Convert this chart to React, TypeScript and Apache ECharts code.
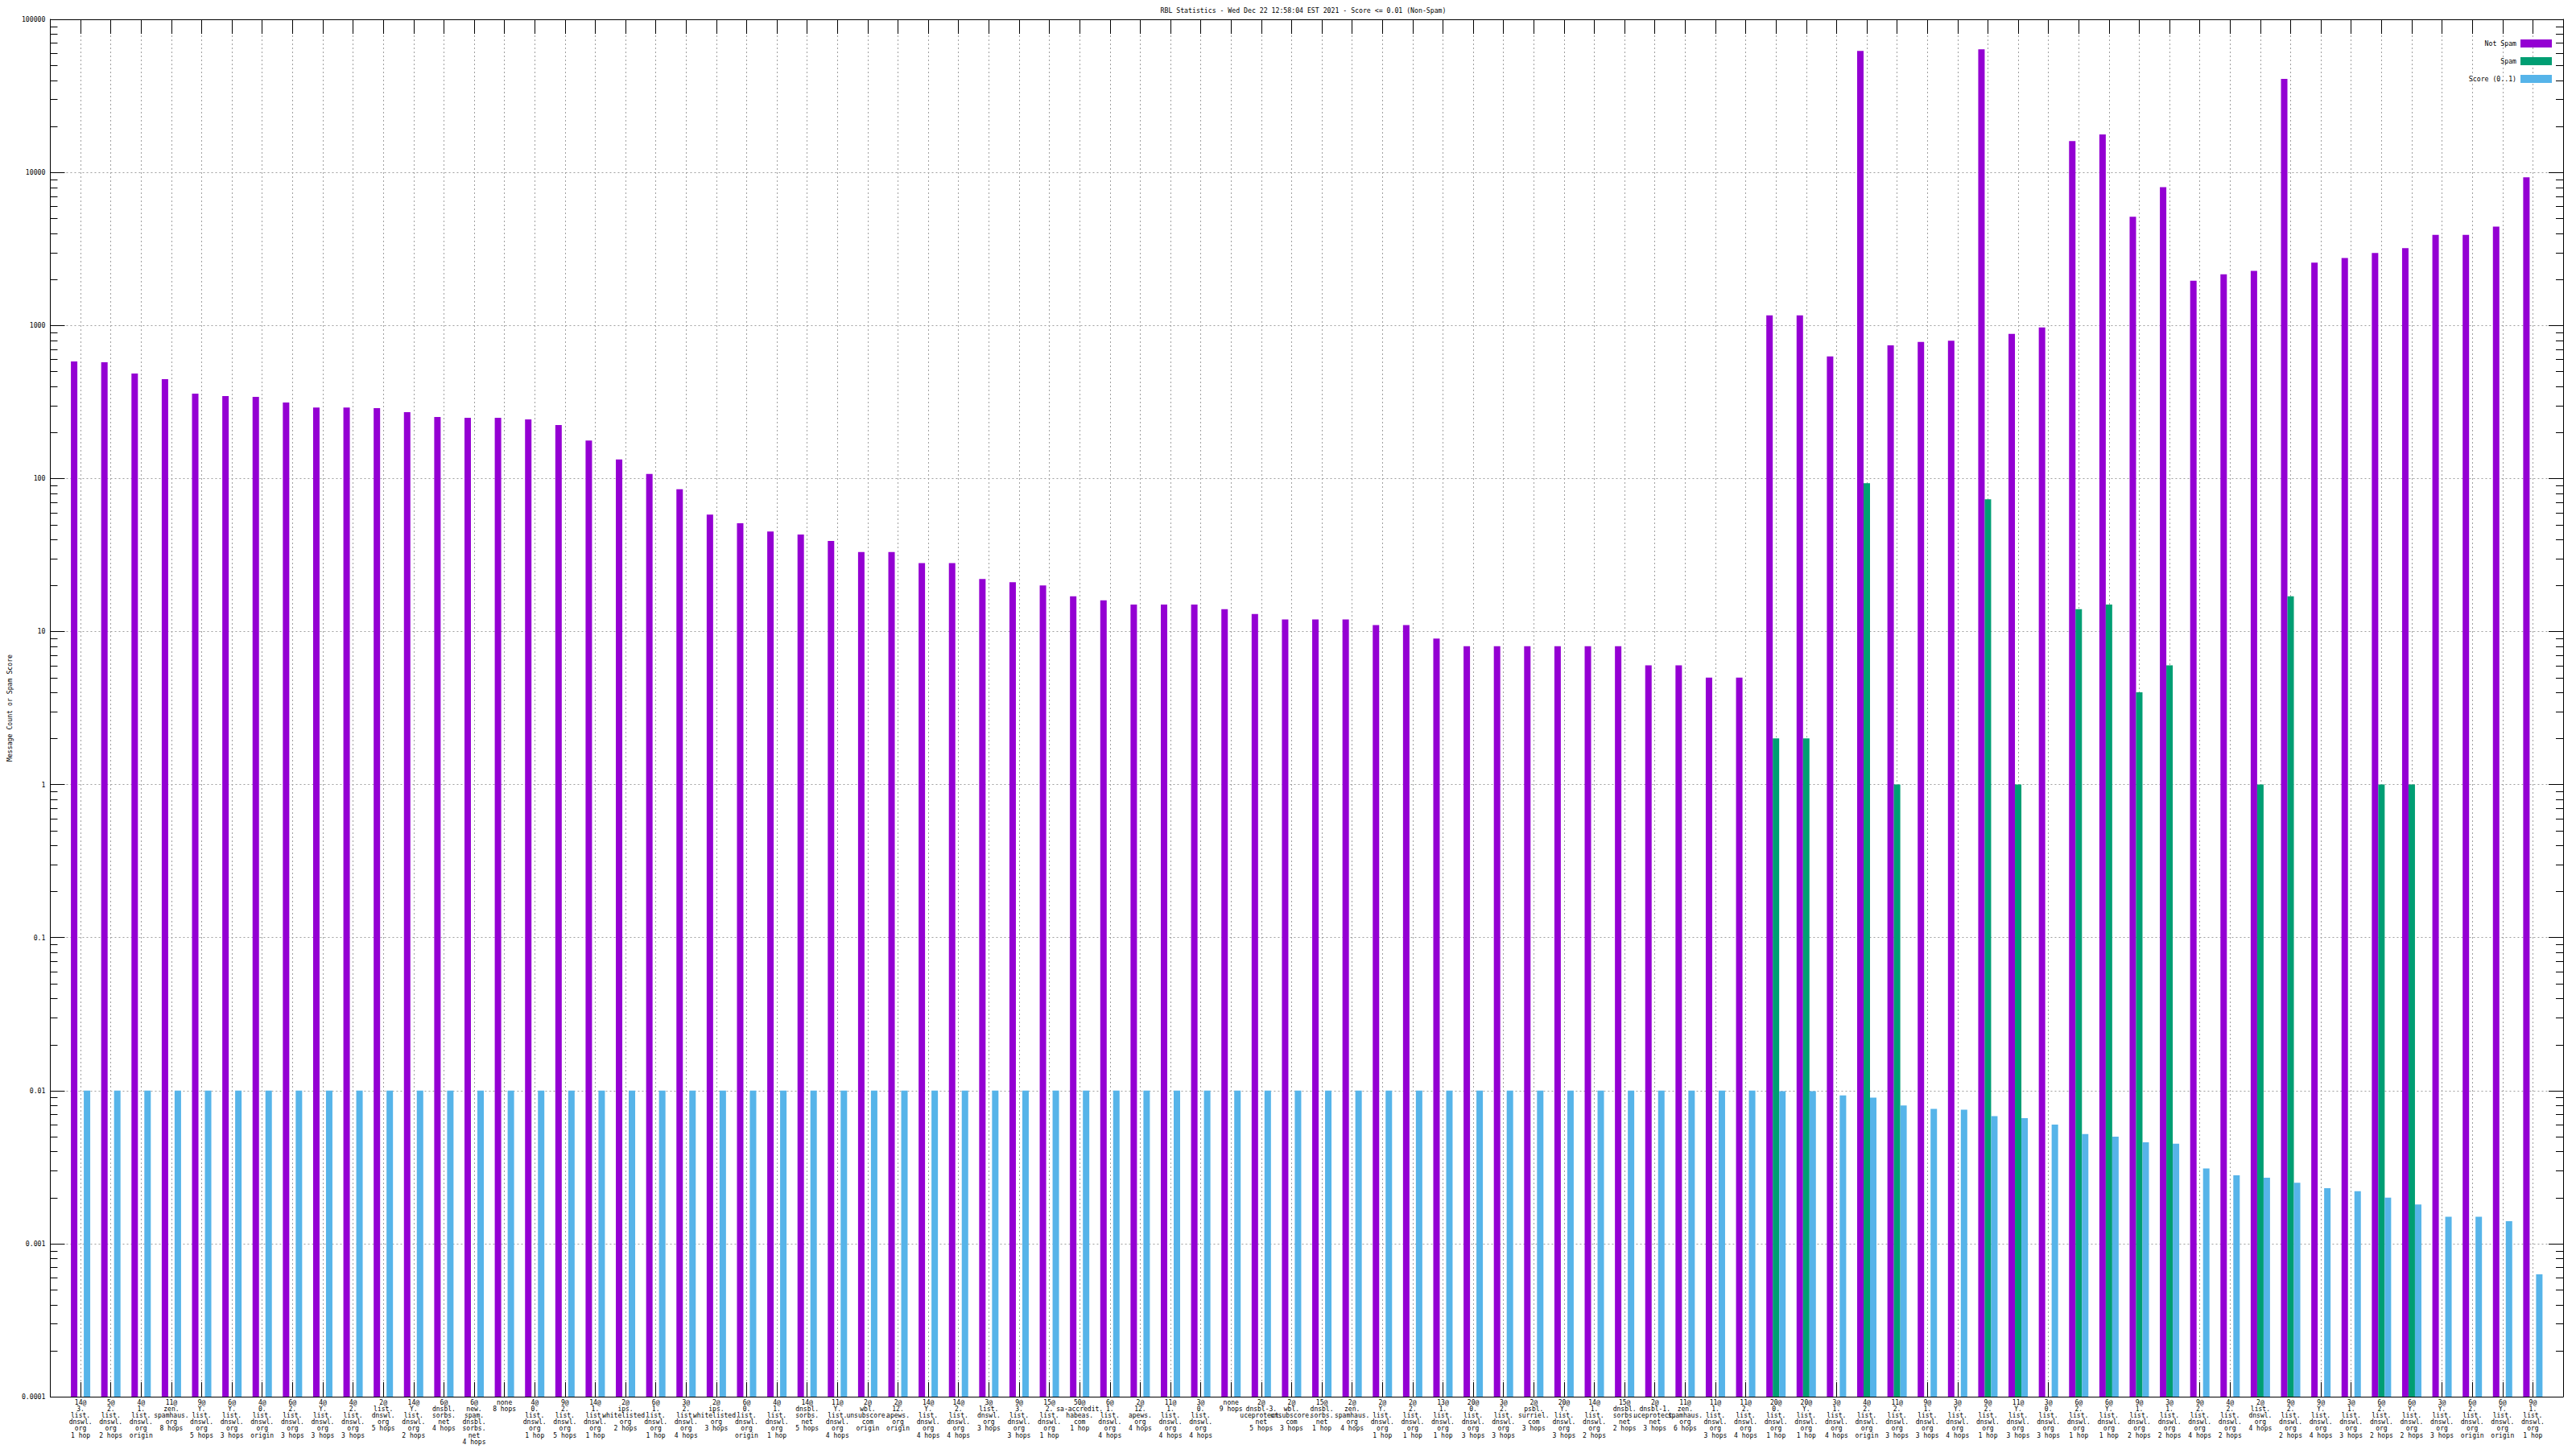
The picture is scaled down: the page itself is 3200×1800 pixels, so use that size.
import React, { useEffect, useRef } from 'react';
import * as echarts from 'echarts';

const chartTitle = 'RBL Statistics - Wed Dec 22 12:58:04 EST 2021 - Score <= 0.01 (Non-Spam)';
const yAxisTitle = 'Message Count or Spam Score';
const seriesNames = ['Not Spam', 'Spam', 'Score (0..1)'];
const seriesColors = ['#9400d3', '#009e73', '#56b4e9'];

const categories = [
  '14@\n3.\nlist.\ndnswl.\norg\n1 hop',
  '5@\n2.\nlist.\ndnswl.\norg\n2 hops',
  '4@\n1.\nlist.\ndnswl.\norg\norigin',
  '11@\nzen.\nspamhaus.\norg\n8 hops',
  '9@\nY.\nlist.\ndnswl.\norg\n5 hops',
  '6@\nY.\nlist.\ndnswl.\norg\n3 hops',
  '4@\n0.\nlist.\ndnswl.\norg\norigin',
  '6@\n2.\nlist.\ndnswl.\norg\n3 hops',
  '4@\nY.\nlist.\ndnswl.\norg\n3 hops',
  '4@\n2.\nlist.\ndnswl.\norg\n3 hops',
  '2@\nlist.\ndnswl.\norg\n5 hops',
  '14@\nY.\nlist.\ndnswl.\norg\n2 hops',
  '6@\ndnsbl.\nsorbs.\nnet\n4 hops',
  '6@\nnew.\nspam.\ndnsbl.\nsorbs.\nnet\n4 hops',
  'none\n8 hops',
  '4@\n0.\nlist.\ndnswl.\norg\n1 hop',
  '9@\n2.\nlist.\ndnswl.\norg\n5 hops',
  '14@\n1.\nlist.\ndnswl.\norg\n1 hop',
  '2@\nips.\nwhitelisted.\norg\n2 hops',
  '6@\n1.\nlist.\ndnswl.\norg\n1 hop',
  '3@\n2.\nlist.\ndnswl.\norg\n4 hops',
  '2@\nips.\nwhitelisted.\norg\n3 hops',
  '6@\n0.\nlist.\ndnswl.\norg\norigin',
  '4@\n1.\nlist.\ndnswl.\norg\n1 hop',
  '14@\ndnsbl.\nsorbs.\nnet\n5 hops',
  '11@\nY.\nlist.\ndnswl.\norg\n4 hops',
  '2@\nwbl.\nunsubscore.\ncom\norigin',
  '2@\n12.\napews.\norg\norigin',
  '14@\nY.\nlist.\ndnswl.\norg\n4 hops',
  '14@\n2.\nlist.\ndnswl.\norg\n4 hops',
  '3@\nlist.\ndnswl.\norg\n3 hops',
  '9@\n3.\nlist.\ndnswl.\norg\n3 hops',
  '15@\n2.\nlist.\ndnswl.\norg\n1 hop',
  '50@\nsa-accredit.\nhabeas.\ncom\n1 hop',
  '6@\n1.\nlist.\ndnswl.\norg\n4 hops',
  '2@\n12.\napews.\norg\n4 hops',
  '11@\n1.\nlist.\ndnswl.\norg\n4 hops',
  '3@\n0.\nlist.\ndnswl.\norg\n4 hops',
  'none\n9 hops',
  '2@\ndnsbl-3.\nuceprotect.\nnet\n5 hops',
  '2@\nwbl.\nunsubscore.\ncom\n3 hops',
  '15@\ndnsbl.\nsorbs.\nnet\n1 hop',
  '2@\nzen.\nspamhaus.\norg\n4 hops',
  '2@\nY.\nlist.\ndnswl.\norg\n1 hop',
  '2@\n2.\nlist.\ndnswl.\norg\n1 hop',
  '13@\n1.\nlist.\ndnswl.\norg\n1 hop',
  '20@\n0.\nlist.\ndnswl.\norg\n3 hops',
  '3@\n2.\nlist.\ndnswl.\norg\n3 hops',
  '2@\npsbl.\nsurriel.\ncom\n3 hops',
  '20@\nY.\nlist.\ndnswl.\norg\n3 hops',
  '14@\n1.\nlist.\ndnswl.\norg\n2 hops',
  '15@\ndnsbl.\nsorbs.\nnet\n2 hops',
  '2@\ndnsbl-1.\nuceprotect.\nnet\n3 hops',
  '11@\nzen.\nspamhaus.\norg\n6 hops',
  '11@\n1.\nlist.\ndnswl.\norg\n3 hops',
  '11@\n2.\nlist.\ndnswl.\norg\n4 hops',
  '20@\n0.\nlist.\ndnswl.\norg\n1 hop',
  '20@\nY.\nlist.\ndnswl.\norg\n1 hop',
  '3@\n1.\nlist.\ndnswl.\norg\n4 hops',
  '4@\n2.\nlist.\ndnswl.\norg\norigin',
  '11@\n2.\nlist.\ndnswl.\norg\n3 hops',
  '9@\n1.\nlist.\ndnswl.\norg\n3 hops',
  '3@\nY.\nlist.\ndnswl.\norg\n4 hops',
  '9@\n2.\nlist.\ndnswl.\norg\n1 hop',
  '11@\nY.\nlist.\ndnswl.\norg\n3 hops',
  '3@\n0.\nlist.\ndnswl.\norg\n3 hops',
  '6@\n2.\nlist.\ndnswl.\norg\n1 hop',
  '6@\nY.\nlist.\ndnswl.\norg\n1 hop',
  '9@\n1.\nlist.\ndnswl.\norg\n2 hops',
  '3@\n1.\nlist.\ndnswl.\norg\n2 hops',
  '9@\n2.\nlist.\ndnswl.\norg\n4 hops',
  '4@\n2.\nlist.\ndnswl.\norg\n2 hops',
  '2@\nlist.\ndnswl.\norg\n4 hops',
  '9@\n2.\nlist.\ndnswl.\norg\n2 hops',
  '9@\nY.\nlist.\ndnswl.\norg\n4 hops',
  '3@\n1.\nlist.\ndnswl.\norg\n3 hops',
  '6@\n2.\nlist.\ndnswl.\norg\n2 hops',
  '6@\nY.\nlist.\ndnswl.\norg\n2 hops',
  '3@\nY.\nlist.\ndnswl.\norg\n3 hops',
  '6@\n2.\nlist.\ndnswl.\norg\norigin',
  '6@\nY.\nlist.\ndnswl.\norg\norigin',
  '9@\n1.\nlist.\ndnswl.\norg\n1 hop',
];

const notSpam = [
  581, 574, 485, 445, 358, 345, 341, 313, 291, 291,
  288, 271, 252, 249, 249, 243, 223, 177, 133, 107,
  85, 58, 51, 45, 43, 39, 33, 33, 28, 28,
  22, 21, 20, 17, 16, 15, 15, 15, 14, 13,
  12, 12, 12, 11, 11, 9, 8, 8, 8, 8,
  8, 8, 6, 6, 5, 5, 1164, 1164, 627, 62200,
  741, 779, 795, 63700, 879, 970, 16000, 17700, 5130, 8000,
  1955, 2160, 2270, 40800, 2570, 2760, 2970, 3200, 3900, 3900,
  4420, 9270,
];

const spam: (number | null)[] = [
  null, null, null, null, null, null, null, null, null, null,
  null, null, null, null, null, null, null, null, null, null,
  null, null, null, null, null, null, null, null, null, null,
  null, null, null, null, null, null, null, null, null, null,
  null, null, null, null, null, null, null, null, null, null,
  null, null, null, null, null, null, 2, 2, null, 93,
  1, null, null, 73, 1, null, 14, 15, 4, 6,
  null, null, 1, 17, null, null, 1, 1, null, null,
  null, null,
];

const score = [
  0.01, 0.01, 0.01, 0.01, 0.01, 0.01, 0.01, 0.01, 0.01, 0.01,
  0.01, 0.01, 0.01, 0.01, 0.01, 0.01, 0.01, 0.01, 0.01, 0.01,
  0.01, 0.01, 0.01, 0.01, 0.01, 0.01, 0.01, 0.01, 0.01, 0.01,
  0.01, 0.01, 0.01, 0.01, 0.01, 0.01, 0.01, 0.01, 0.01, 0.01,
  0.01, 0.01, 0.01, 0.01, 0.01, 0.01, 0.01, 0.01, 0.01, 0.01,
  0.01, 0.01, 0.01, 0.01, 0.01, 0.01, 0.0099, 0.0099, 0.0093, 0.009,
  0.008, 0.0076, 0.0075, 0.0068, 0.0066, 0.006, 0.0052, 0.005, 0.0046, 0.0045,
  0.0031, 0.0028, 0.0027, 0.0025, 0.0023, 0.0022, 0.002, 0.0018, 0.0015, 0.0015,
  0.0014, 0.00063,
];

const yTickLabels = ['0.0001', '0.001', '0.01', '0.1', '1', '10', '100', '1000', '10000', '100000'];

// minor tick positions of the log axis (2..9 times each power of ten)
const yMinorTicks = [
  0.0002, 0.0003, 0.0004, 0.0005, 0.0006, 0.0007, 0.0008, 0.0009,
  0.002, 0.003, 0.004, 0.005, 0.006, 0.007, 0.008, 0.009,
  0.02, 0.03, 0.04, 0.05, 0.06, 0.07, 0.08, 0.09,
  0.2, 0.3, 0.4, 0.5, 0.6, 0.7, 0.8, 0.9,
  2, 3, 4, 5, 6, 7, 8, 9,
  20, 30, 40, 50, 60, 70, 80, 90,
  200, 300, 400, 500, 600, 700, 800, 900,
  2000, 3000, 4000, 5000, 6000, 7000, 8000, 9000,
  20000, 30000, 40000, 50000, 60000, 70000, 80000, 90000,
];

const FONT = 'DejaVu Sans Mono';
const FS = 8;
const BAR_W = 8;
const BAR_OFFSETS = [-12, -4, 4];
const MINOR_LEN = 9;

export default function App() {
  const ref = useRef<HTMLDivElement>(null);
  useEffect(() => {
    if (!ref.current) return;
    const chart = echarts.init(ref.current, null, { renderer: 'svg' });

    const makeBars = (sIdx: number, values: (number | null)[]) => ({
      type: 'custom',
      name: seriesNames[sIdx],
      xAxisIndex: 0,
      yAxisIndex: 0,
      itemStyle: { color: seriesColors[sIdx] },
      encode: { x: 0, y: 1 },
      data: values
        .map((v, i) => (v == null ? null : [i, v]))
        .filter((d) => d !== null),
      renderItem: (params: any, api: any) => {
        const cs = params.coordSys;
        const p = api.coord([api.value(0), api.value(1)]);
        const bottom = cs.y + cs.height;
        return {
          type: 'rect',
          shape: { x: p[0] + BAR_OFFSETS[sIdx], y: p[1], width: BAR_W, height: bottom - p[1] },
          style: { fill: seriesColors[sIdx] },
        };
      },
      z: 3,
    });

    const minorTickSeries = {
      type: 'custom',
      name: 'minor ticks',
      xAxisIndex: 0,
      yAxisIndex: 0,
      silent: true,
      encode: { x: 0, y: 1 },
      data: yMinorTicks.map((v) => [0, v]),
      renderItem: (params: any, api: any) => {
        const cs = params.coordSys;
        const y = Math.round(api.coord([0, api.value(1)])[1]) + 0.5;
        const xl = cs.x;
        const xr = cs.x + cs.width;
        return {
          type: 'group',
          children: [
            { type: 'line', shape: { x1: xl, y1: y, x2: xl + MINOR_LEN, y2: y }, style: { stroke: '#000', lineWidth: 1 } },
            { type: 'line', shape: { x1: xr - MINOR_LEN, y1: y, x2: xr, y2: y }, style: { stroke: '#000', lineWidth: 1 } },
          ],
        };
      },
      z: 1,
    };

    const yCommon = {
      type: 'log',
      logBase: 10,
      min: 0.0001,
      max: 100000,
      axisLine: { show: true, onZero: false, lineStyle: { color: '#000', width: 1 } },
      axisTick: { show: true, inside: true, length: 18, lineStyle: { color: '#000', width: 1 } },
      minorTick: { show: false },
    };

    const xCommon = {
      type: 'value',
      min: -1,
      max: 82,
      interval: 1,
      axisLine: { show: true, onZero: false, lineStyle: { color: '#000', width: 1 } },
      axisTick: { show: true, inside: true, length: 18, lineStyle: { color: '#000', width: 1 } },
    };

    chart.setOption({
      animation: false,
      backgroundColor: '#ffffff',
      color: seriesColors,
      textStyle: { fontFamily: FONT, fontSize: FS, color: '#000' },
      grid: { left: 55, right: 16, top: 24, bottom: 65, containLabel: false },
      graphic: [
        {
          type: 'text',
          x: 1619,
          y: 13,
          style: {
            text: chartTitle,
            textAlign: 'center',
            textVerticalAlign: 'middle',
            fontFamily: FONT,
            fontSize: 8.2,
            fill: '#000',
          },
        },
      ],
      legend: {
        data: seriesNames,
        orient: 'vertical',
        right: 25,
        top: 44,
        align: 'right',
        icon: 'rect',
        itemWidth: 39,
        itemHeight: 10,
        itemGap: 12,
        textStyle: { fontFamily: FONT, fontSize: 8.2, color: '#000' },
      },
      xAxis: [
        {
          ...xCommon,
          position: 'bottom',
          splitLine: { show: true, lineStyle: { color: '#a0a0a0', width: 1, type: [2, 3] } },
          axisLabel: {
            show: true,
            margin: 3,
            fontFamily: FONT,
            fontSize: FS,
            lineHeight: 8.2,
            color: '#000',
            align: 'center',
            formatter: (v: number) => (v >= 0 && v < categories.length ? categories[v] : ''),
          },
        },
        {
          ...xCommon,
          position: 'top',
          splitLine: { show: false },
          axisLabel: { show: false },
        },
      ],
      yAxis: [
        {
          ...yCommon,
          position: 'left',
          name: yAxisTitle,
          nameLocation: 'middle',
          nameRotate: 90,
          nameGap: 45,
          nameTextStyle: { fontFamily: FONT, fontSize: 8.2, color: '#000' },
          splitLine: { show: true, lineStyle: { color: '#a0a0a0', width: 1, type: [2, 3] } },
          axisLabel: {
            show: true,
            margin: 6,
            fontFamily: FONT,
            fontSize: 8.2,
            color: '#000',
            formatter: (v: number) => yTickLabels[Math.round(Math.log10(v)) + 4] ?? '',
          },
        },
        {
          ...yCommon,
          position: 'right',
          splitLine: { show: false },
          axisLabel: { show: false },
        },
      ],
      series: [minorTickSeries, makeBars(0, notSpam), makeBars(1, spam), makeBars(2, score)],
    });

    return () => chart.dispose();
  }, []);

  return (
    <div
      ref={ref}
      style={{ position: 'absolute', left: 0, top: 0, width: 3200, height: 1800, background: '#fff' }}
    />
  );
}
